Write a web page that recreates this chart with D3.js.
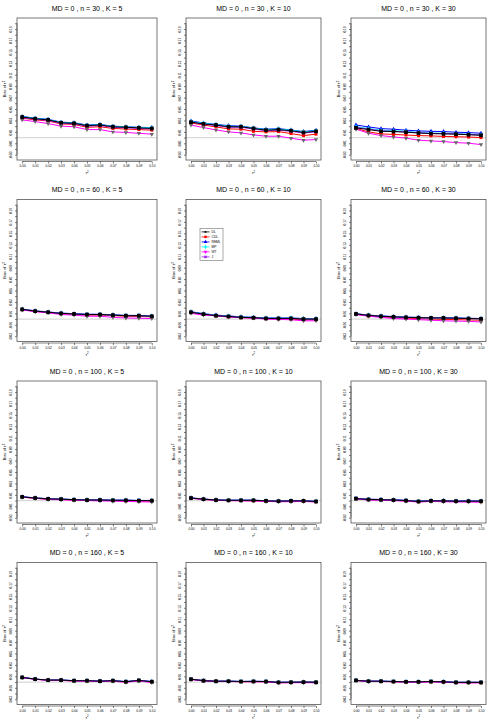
<!DOCTYPE html>
<meta charset="utf-8">
<head>
<title>Bias of tau2 by MD, n and K</title>
<style>
  body { margin: 0; background: #fff; }
  text { font-family: "Liberation Sans", Arial, sans-serif; fill: #000; }
</style>
</head>
<body>
<script src="https://cdn.jsdelivr.net/npm/d3@7"></script>
<script>

// x values (tau^2) shared by every panel
var tau2 = [0, 0.01, 0.02, 0.03, 0.04, 0.05, 0.06, 0.07, 0.08, 0.09, 0.10];
var xTickLabels = ["0.00","0.01","0.02","0.03","0.04","0.05","0.06","0.07","0.08","0.09","0.10"];
var methods = ["DL", "CDL", "REML", "MP", "WT", "J"];
var colours = ["#000000", "#ff0000", "#0000ff", "#00ffff", "#ff00ff", "#a020f0"];
var nValues = [30, 60, 100, 160];
var kValues = [5, 10, 30];

// bias per panel, rows in the order of methods
var n30K5 = [
  [0.036,0.033,0.031,0.026,0.025,0.021,0.022,0.019,0.018,0.017,0.016],
  [0.034,0.031,0.029,0.024,0.023,0.018,0.019,0.016,0.015,0.014,0.013],
  [0.037,0.034,0.032,0.027,0.026,0.022,0.023,0.020,0.019,0.018,0.0175],
  [0.0365,0.0335,0.0315,0.0265,0.0255,0.0215,0.0225,0.0195,0.0185,0.0175,0.017],
  [0.031,0.028,0.0245,0.020,0.019,0.014,0.014,0.010,0.009,0.0075,0.006],
  [0.035,0.032,0.030,0.025,0.024,0.020,0.021,0.018,0.017,0.016,0.015]
];
var n30K10 = [
  [0.027,0.024,0.022,0.019,0.019,0.016,0.013,0.014,0.012,0.009,0.011],
  [0.0256,0.022,0.0187,0.0152,0.0147,0.011,0.010,0.0105,0.007,0.0035,0.006],
  [0.029,0.0256,0.023,0.021,0.020,0.017,0.0147,0.0157,0.0134,0.0105,0.0129],
  [0.028,0.025,0.0225,0.020,0.0195,0.0165,0.014,0.015,0.013,0.010,0.012],
  [0.022,0.0175,0.0134,0.010,0.0082,0.0047,0.0024,0.0024,-0.001,-0.0045,-0.0035],
  [0.027,0.0235,0.021,0.018,0.018,0.015,0.012,0.013,0.011,0.008,0.010]
];
var n30K30 = [
  [0.017,0.014,0.011,0.0105,0.0095,0.008,0.007,0.0065,0.006,0.005,0.004],
  [0.016,0.010,0.0065,0.0055,0.0045,0.0035,0.003,0.002,0.0015,0.001,0.0],
  [0.022,0.0187,0.0157,0.0147,0.013,0.0117,0.011,0.0105,0.0094,0.0087,0.0077],
  [0.019,0.016,0.013,0.012,0.011,0.009,0.008,0.0075,0.007,0.006,0.005],
  [0.0147,0.0077,0.0035,0.0012,-0.001,-0.0045,-0.0058,-0.007,-0.0087,-0.0098,-0.0122],
  [0.018,0.015,0.012,0.011,0.010,0.0085,0.0075,0.007,0.0065,0.0055,0.0045]
];
var n60K5 = [
  [0.017,0.014,0.012,0.010,0.009,0.008,0.008,0.007,0.006,0.006,0.005],
  [0.0165,0.0135,0.0115,0.0095,0.0085,0.007,0.007,0.006,0.005,0.0045,0.004],
  [0.0175,0.0145,0.0125,0.0105,0.0095,0.0085,0.0085,0.0075,0.0065,0.0065,0.0055],
  [0.017,0.014,0.012,0.010,0.009,0.008,0.008,0.007,0.006,0.006,0.005],
  [0.016,0.013,0.011,0.008,0.007,0.005,0.005,0.003,0.002,0.0015,0.001],
  [0.017,0.014,0.012,0.010,0.009,0.008,0.008,0.007,0.006,0.006,0.005]
];
var n60K10 = [
  [0.012,0.0087,0.006,0.0047,0.003,0.0024,0.0012,0.0012,0.0012,0.0,0.0],
  [0.0115,0.008,0.0055,0.004,0.0025,0.0018,0.0005,0.0003,0.0,-0.0012,-0.0012],
  [0.013,0.0095,0.007,0.0055,0.004,0.0032,0.002,0.002,0.002,0.001,0.001],
  [0.0125,0.009,0.0065,0.005,0.0035,0.0028,0.0016,0.0016,0.0015,0.0005,0.0005],
  [0.010,0.007,0.0058,0.0035,0.0024,0.0018,0.0,-0.0006,-0.0012,-0.003,-0.003],
  [0.012,0.0087,0.006,0.0047,0.003,0.0024,0.0012,0.0012,0.0012,0.0,0.0]
];
var n60K30 = [
  [0.009,0.0065,0.005,0.004,0.003,0.0025,0.002,0.002,0.0015,0.001,0.0005],
  [0.0085,0.0055,0.004,0.0025,0.0015,0.001,0.0,-0.0005,-0.001,-0.0015,-0.002],
  [0.0095,0.007,0.0055,0.0045,0.0035,0.003,0.0025,0.0025,0.002,0.0015,0.001],
  [0.009,0.0065,0.005,0.004,0.003,0.0025,0.002,0.002,0.0015,0.001,0.0005],
  [0.008,0.005,0.003,0.001,0.0,-0.001,-0.002,-0.003,-0.0035,-0.004,-0.005],
  [0.009,0.0065,0.005,0.004,0.003,0.0025,0.002,0.002,0.0015,0.001,0.0005]
];
var n100K5 = [
  [0.0065,0.0045,0.003,0.0025,0.0015,0.001,0.001,0.0005,0.0005,0.0,0.0],
  [0.006,0.004,0.0025,0.002,0.001,0.0005,0.0005,0.0,-0.0005,-0.001,-0.001],
  [0.0068,0.0048,0.0033,0.0028,0.0018,0.0013,0.0013,0.0008,0.0008,0.0003,0.0003],
  [0.0065,0.0045,0.003,0.0025,0.0015,0.001,0.001,0.0005,0.0005,0.0,0.0],
  [0.006,0.004,0.002,0.0015,0.0005,0.0,-0.0005,-0.001,-0.0015,-0.002,-0.0025],
  [0.0065,0.0045,0.003,0.0025,0.0015,0.001,0.001,0.0005,0.0005,0.0,0.0]
];
var n100K10 = [
  [0.0045,0.0025,0.001,0.0005,0.0005,0.0005,-0.0005,-0.001,-0.0005,-0.0005,-0.0015],
  [0.004,0.002,0.0005,0.0,0.0,-0.0005,-0.001,-0.0015,-0.0015,-0.001,-0.002],
  [0.0048,0.0028,0.0013,0.0008,0.0008,0.0008,-0.0002,-0.0007,-0.0002,-0.0002,-0.0012],
  [0.0045,0.0025,0.001,0.0005,0.0005,0.0005,-0.0005,-0.001,-0.0005,-0.0005,-0.0015],
  [0.004,0.002,0.0005,0.0,-0.0005,-0.0005,-0.0015,-0.002,-0.002,-0.0015,-0.0025],
  [0.0045,0.0025,0.001,0.0005,0.0005,0.0005,-0.0005,-0.001,-0.0005,-0.0005,-0.0015]
];
var n100K30 = [
  [0.0035,0.002,0.0015,0.001,0.0,-0.0015,-0.0005,-0.0005,-0.001,-0.001,-0.001],
  [0.003,0.0015,0.001,0.0005,-0.0005,-0.002,-0.001,-0.0015,-0.0015,-0.0015,-0.002],
  [0.004,0.0025,0.002,0.0015,0.0005,-0.001,0.0,0.0,-0.0005,-0.0005,-0.0005],
  [0.0035,0.002,0.0015,0.001,0.0,-0.0015,-0.0005,-0.0005,-0.001,-0.001,-0.001],
  [0.003,0.001,0.0005,0.0,-0.001,-0.0025,-0.0015,-0.002,-0.0025,-0.0025,-0.003],
  [0.0035,0.002,0.0015,0.001,0.0,-0.0015,-0.0005,-0.0005,-0.001,-0.001,-0.001]
];
var n160K5 = [
  [0.0082,0.0052,0.0035,0.0035,0.0024,0.0024,0.0017,0.0024,0.0007,0.003,0.0007],
  [0.008,0.005,0.0032,0.0032,0.002,0.002,0.0012,0.002,0.0002,0.0025,0.0002],
  [0.0084,0.0054,0.0037,0.0037,0.0026,0.0026,0.0019,0.0026,0.0009,0.0032,0.0009],
  [0.0082,0.0052,0.0035,0.0035,0.0024,0.0024,0.0017,0.0024,0.0007,0.003,0.0007],
  [0.0078,0.0048,0.003,0.003,0.0018,0.0017,0.0008,0.0015,-0.0003,0.002,-0.0008],
  [0.0082,0.0052,0.0035,0.0035,0.0024,0.0024,0.0017,0.0024,0.0007,0.003,0.0007]
];
var n160K10 = [
  [0.005,0.0025,0.0015,0.0015,0.001,0.0012,0.001,-0.0005,-0.0003,0.0,-0.0003],
  [0.0048,0.0022,0.0012,0.0012,0.0007,0.0008,0.0006,-0.001,-0.0008,-0.0005,-0.0008],
  [0.0052,0.0027,0.0017,0.0017,0.0012,0.0014,0.0012,-0.0003,-0.0001,0.0002,-0.0001],
  [0.005,0.0025,0.0015,0.0015,0.001,0.0012,0.001,-0.0005,-0.0003,0.0,-0.0003],
  [0.0046,0.002,0.001,0.001,0.0005,0.0005,0.0003,-0.0013,-0.0012,-0.001,-0.0013],
  [0.005,0.0025,0.0015,0.0015,0.001,0.0012,0.001,-0.0005,-0.0003,0.0,-0.0003]
];
var n160K30 = [
  [0.003,0.0015,0.0015,0.001,0.0005,0.0005,0.001,0.0005,-0.0005,-0.0005,-0.0005],
  [0.0028,0.0012,0.0012,0.0007,0.0002,0.0,0.0006,0.0,-0.001,-0.001,-0.001],
  [0.0032,0.0017,0.0017,0.0012,0.0007,0.0007,0.0012,0.0007,-0.0003,-0.0003,-0.0003],
  [0.003,0.0015,0.0015,0.001,0.0005,0.0005,0.001,0.0005,-0.0005,-0.0005,-0.0005],
  [0.0026,0.001,0.001,0.0005,0.0,-0.0002,0.0003,-0.0003,-0.0013,-0.0013,-0.0015],
  [0.003,0.0015,0.0015,0.001,0.0005,0.0005,0.001,0.0005,-0.0005,-0.0005,-0.0005]
];
var panels = [n30K5, n30K10, n30K30, n60K5, n60K10, n60K30,
              n100K5, n100K10, n100K30, n160K5, n160K10, n160K30];

// y tick values -0.03 .. 0.20 every 0.01, labels on every other one
var yTicks = d3.range(-3, 21).map(function(d) { return d / 100; });

var W = 495, H = 726;
var boxLeft = [17, 186, 351], boxRight = [157, 321, 486];
var boxTop0 = 18, rowStep = 181.5, boxH = 142;

var svg = d3.select("body").append("svg")
    .attr("width", W)
    .attr("height", H);

var symbols = [d3.symbolSquare, d3.symbolSquare, d3.symbolTriangle, d3.symbolDiamond, d3.symbolTriangle, d3.symbolSquare];
var symSizes = [14, 9, 8, 7, 8, 6];
var symRot = [0, 0, 0, 0, 180, 0];

function tauLabel(sel) {
  sel.append("tspan").text("\u03c4");
  sel.append("tspan").attr("dy", "-0.4em").attr("font-size", "0.7em").text("2");
}

panels.forEach(function(data, p) {
  var r = Math.floor(p / 3), c = p % 3;
  var left = boxLeft[c], right = boxRight[c];
  var top = boxTop0 + r * rowStep, bottom = top + boxH;

  var xr = 0.1 * 0.04, yr = 0.23 * 0.04;
  var x = d3.scaleLinear().domain([0 - xr, 0.1 + xr]).range([left, right]);
  var y = d3.scaleLinear().domain([-0.03 - yr, 0.2 + yr]).range([bottom, top]);

  var g = svg.append("g");

  // title
  g.append("text")
      .attr("x", (left + right) / 2)
      .attr("y", top - 7.5)
      .attr("text-anchor", "middle")
      .style("font-size", "7px")
      .text("MD = 0 , n = " + nValues[r] + " , K = " + kValues[c]);

  // zero reference line
  g.append("line")
      .attr("x1", left).attr("x2", right)
      .attr("y1", y(0)).attr("y2", y(0))
      .attr("stroke", "#d9d9d9")
      .attr("stroke-width", 1.4);

  // axes
  var yAxis = d3.axisLeft(y)
      .tickValues(yTicks)
      .tickSize(2)
      .tickPadding(1.5)
      .tickFormat(function(d, i) { return i % 2 == 0 ? d3.format(".2f")(d).replace("\u2212", "-") : ""; });
  var ya = g.append("g")
      .attr("transform", "translate(" + left + ",0)")
      .call(yAxis);
  ya.select(".domain").remove();
  ya.append("line")
      .attr("x1", 0).attr("x2", 0)
      .attr("y1", y(-0.03)).attr("y2", y(0.2))
      .attr("stroke", "#000").attr("stroke-width", 0.5);
  ya.selectAll(".tick line").attr("stroke-width", 0.5);
  ya.selectAll(".tick text")
      .style("font-size", "3.2px")
      .attr("text-anchor", "middle")
      .attr("transform", "rotate(-90)")
      .attr("x", 0)
      .attr("y", -5)
      .attr("dy", 0);
  ya.selectAll(".tick").each(function(d) {
    d3.select(this).select("text").attr("transform", "rotate(-90)");
  });

  var xAxis = d3.axisBottom(x)
      .tickValues(tau2)
      .tickSize(2)
      .tickPadding(1.5)
      .tickFormat(function(d, i) { return xTickLabels[i]; });
  var xa = g.append("g")
      .attr("transform", "translate(0," + (bottom + 1.5) + ")")
      .call(xAxis);
  xa.select(".domain").remove();
  xa.append("line")
      .attr("x1", x(0)).attr("x2", x(0.1))
      .attr("y1", 0).attr("y2", 0)
      .attr("stroke", "#000").attr("stroke-width", 0.5);
  xa.selectAll(".tick line").attr("stroke-width", 0.5);
  xa.selectAll(".tick text").style("font-size", "3.2px");

  // box
  g.append("rect")
      .attr("x", left).attr("y", top)
      .attr("width", right - left).attr("height", bottom - top)
      .attr("fill", "none")
      .attr("stroke", "#555")
      .attr("stroke-width", 0.8);

  // axis titles
  var xl = g.append("text")
      .attr("x", (left + right) / 2)
      .attr("y", bottom + 14)
      .attr("text-anchor", "middle")
      .style("font-size", "4px");
  tauLabel(xl);

  var yl = g.append("text")
      .attr("transform", "translate(" + (left - 11) + "," + ((top + bottom) / 2) + ") rotate(-90)")
      .attr("text-anchor", "middle")
      .style("font-size", "4px");
  yl.append("tspan").text("Bias of ");
  tauLabel(yl);

  // series lines, DL drawn last so its squares sit on top
  var line = d3.line()
      .x(function(d, i) { return x(tau2[i]); })
      .y(function(d) { return y(d); });
  var order = [1, 2, 3, 4, 5, 0];
  order.forEach(function(m) {
    g.append("path")
        .datum(data[m])
        .attr("d", line)
        .attr("fill", "none")
        .attr("stroke", colours[m])
        .attr("stroke-width", 1);
    g.selectAll(null)
        .data(data[m])
        .enter().append("path")
        .attr("d", d3.symbol().type(symbols[m]).size(symSizes[m]))
        .attr("transform", function(d, i) {
          return "translate(" + x(tau2[i]) + "," + y(d) + ") rotate(" + symRot[m] + ")";
        })
        .attr("fill", m == 4 ? "#666" : colours[m]);
  });

  // legend in the middle panel of row 2
  if (p == 4) {
    var lx = 200, ly = 228.3;
    var lg = g.append("g");
    lg.append("rect")
        .attr("x", lx).attr("y", ly)
        .attr("width", 23).attr("height", 32)
        .attr("fill", "#fff")
        .attr("stroke", "#555")
        .attr("stroke-width", 0.5);
    methods.forEach(function(name, m) {
      var yy = ly + 3.6 + m * 5;
      lg.append("line")
          .attr("x1", lx + 1.5).attr("x2", lx + 9.5)
          .attr("y1", yy).attr("y2", yy)
          .attr("stroke", colours[m]).attr("stroke-width", 0.8);
      lg.append("path")
          .attr("d", d3.symbol().type(symbols[m]).size(m == 0 ? 3 : 6))
          .attr("transform", "translate(" + (lx + 5.5) + "," + yy + ") rotate(" + symRot[m] + ")")
          .attr("fill", colours[m]);
      lg.append("text")
          .attr("x", lx + 11.5)
          .attr("y", yy + 1.1)
          .style("font-size", "3.3px")
          .text(name);
    });
  }
});

</script>
</body>
